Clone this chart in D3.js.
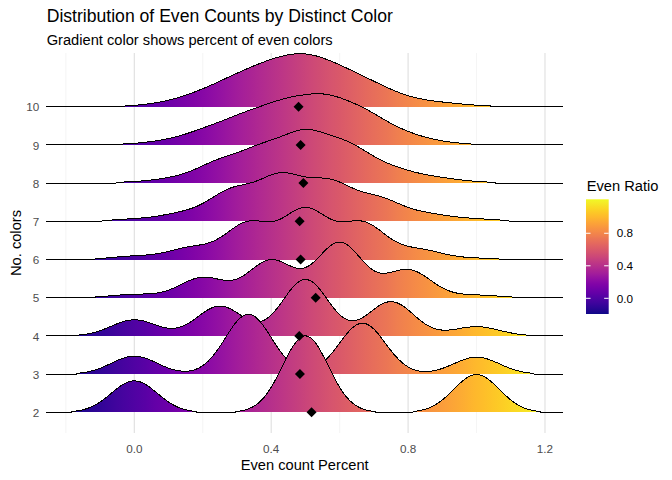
<!DOCTYPE html>
<html><head><meta charset="utf-8">
<script src="https://cdn.jsdelivr.net/npm/d3@7"></script>
<style>
body{margin:0;background:#fff}
svg{display:block;font-family:"Liberation Sans",Arial,sans-serif}
</style>
</head><body>
<svg id="chart" width="672" height="480"></svg>
<script>
// ---------------- data ----------------
// number of distinct colours per row
const colorCounts = [2, 3, 4, 5, 6, 7, 8, 9, 10];
// share (%) of samples with k even colours, k = 0..n, for each n
const share2  = [21.6, 52.5, 25.9];
const share3  = [12.4, 41.4, 35.2, 11.7];
const share4  = [10.8, 20.0, 37.9, 23.0, 6.2];
const share5  = [2.2, 13.6, 25.3, 37.2, 18.8, 1.7];
const share6  = [2.2, 7.8, 24.3, 33.3, 24.3, 6.4, 0.8];
const share7  = [1.3, 4.7, 18.5, 27.0, 23.1, 13.5, 4.2, 1.35];
const share8  = [0.6, 2.9, 12.9, 20.2, 29.6, 21.9, 8.4, 3.3, 0.6];
const share9  = [0.4, 2.6, 8.7, 15.6, 21.6, 24.6, 17.7, 6.5, 1.5, 0];
const share10 = [0.2, 2.0, 6.9, 13.9, 19.9, 23.8, 17.2, 10.5, 3.3, 1.9, 0.4];
// mean even-count percent per row (diamonds)
const meanPercent = [0.518, 0.484, 0.482, 0.530, 0.486, 0.483, 0.494, 0.486, 0.480];
// axis / legend ticks
const xTicks = [0, 0.4, 0.8, 1.2];
const xMinorTicks = [-0.2, 0.2, 0.6, 1.0];
const legendTicks = [0, 0.4, 0.8];
// density settings
const bandwidth = 0.067;
const xExtent = [-0.258, 1.2535];
const fillExtent = [-0.193, 1.218];
const ridgeScale = 2;
const relMinHeight = 0.01;

const shares = [share2, share3, share4, share5, share6, share7, share8, share9, share10];
const rows = colorCounts.map((n, i) => ({
  n, share: shares[i], mean: meanPercent[i]
}));

// ---------------- layout ----------------
const svg = d3.select("#chart");
const panel = {left: 46, right: 563.3, top: 53, bottom: 433};

const x = d3.scaleLinear().domain(xExtent).range([panel.left, panel.right]);
const y = d3.scalePoint().domain(colorCounts.slice().reverse()).range([106.7, 412.3]);
const color = d3.scaleSequential(d3.interpolatePlasma).domain(fillExtent);

// ---------------- KDE ----------------
const gridN = 512;
const grid = d3.range(gridN).map(i => xExtent[0] + (xExtent[1] - xExtent[0]) * i / (gridN - 1));
const gauss = u => Math.exp(-0.5 * u * u) / Math.sqrt(2 * Math.PI);
rows.forEach(r => {
  const tot = d3.sum(r.share);
  const pts = r.share.map((w, k) => ({v: k / r.n, w: w / tot}));
  r.dens = grid.map(gx => ({
    x: gx,
    d: d3.sum(pts, p => p.w * gauss((gx - p.v) / bandwidth)) / bandwidth
  }));
});
const globalMax = d3.max(rows, r => d3.max(r.dens, p => p.d));
const h = d3.scaleLinear().domain([0, globalMax]).range([0, ridgeScale * y.step()]);
const cutoff = relMinHeight * globalMax;

// ---------------- defs: gradients ----------------
const defs = svg.append("defs");
const stops = d3.range(0, 1.0001, 0.02);
const gFill = defs.append("linearGradient").attr("id", "ridgeFill")
  .attr("gradientUnits", "userSpaceOnUse")
  .attr("x1", x(fillExtent[0])).attr("x2", x(fillExtent[1]))
  .attr("y1", 0).attr("y2", 0);
gFill.selectAll("stop").data(stops).join("stop")
  .attr("offset", t => t)
  .attr("stop-color", t => color(fillExtent[0] + t * (fillExtent[1] - fillExtent[0])));

// ---------------- grid ----------------
const gridG = svg.append("g");
gridG.selectAll("line.minor").data(xMinorTicks).join("line")
  .attr("x1", d => x(d)).attr("x2", d => x(d))
  .attr("y1", panel.top).attr("y2", panel.bottom)
  .attr("stroke", "#EBEBEB").attr("stroke-width", 0.55);
gridG.selectAll("line.major").data(xTicks).join("line")
  .attr("x1", d => x(d)).attr("x2", d => x(d))
  .attr("y1", panel.top).attr("y2", panel.bottom)
  .attr("stroke", "#DEDEDE").attr("stroke-width", 1.07);

// ---------------- ridges ----------------
const ridgeG = svg.append("g");
rows.slice().reverse().forEach(r => {
  const base = y(r.n);
  const vals = r.dens.map(p => ({x: p.x, d: p.d >= cutoff ? p.d : 0}));
  const area = d3.area().x(p => x(p.x)).y0(base).y1(p => base - h(p.d));
  const line = d3.line().x(p => x(p.x)).y(p => base - h(p.d));
  ridgeG.append("path").attr("d", area(vals)).attr("fill", "url(#ridgeFill)")
    .attr("shape-rendering", "crispEdges");
  ridgeG.append("path").attr("d", line(vals)).attr("fill", "none")
    .attr("stroke", "#000").attr("stroke-width", 1)
    .attr("shape-rendering", "crispEdges");
});

// ---------------- mean diamonds ----------------
const diamond = d3.symbol(d3.symbolSquare, 50);
svg.append("g").selectAll("path").data(rows).join("path")
  .attr("d", diamond)
  .attr("transform", r => `translate(${x(r.mean)},${y(r.n)}) rotate(45)`)
  .attr("fill", "#000");

// ---------------- axes ----------------
const fmt = d3.format(".1f");
svg.append("g").selectAll("text").data(xTicks).join("text")
  .attr("x", d => x(d)).attr("y", 452.7)
  .attr("text-anchor", "middle").attr("font-size", 11.7).attr("fill", "#4D4D4D")
  .text(fmt);
svg.append("g").selectAll("text").data(colorCounts).join("text")
  .attr("x", 39.3).attr("y", d => y(d) + 4.6)
  .attr("text-anchor", "end").attr("font-size", 11.7).attr("fill", "#4D4D4D")
  .text(d => d);

svg.append("text").attr("x", (panel.left + panel.right) / 2).attr("y", 470)
  .attr("text-anchor", "middle").attr("font-size", 14.67).attr("fill", "#000")
  .text("Even count Percent");
svg.append("text").attr("transform", `translate(20.5,${(panel.top + panel.bottom) / 2}) rotate(-90)`)
  .attr("text-anchor", "middle").attr("font-size", 14.67).attr("fill", "#000")
  .text("No. colors");

// ---------------- titles ----------------
svg.append("text").attr("x", 46.7).attr("y", 21.7)
  .attr("font-size", 17.6).attr("fill", "#000")
  .text("Distribution of Even Counts by Distinct Color");
svg.append("text").attr("x", 46.7).attr("y", 45)
  .attr("font-size", 14.67).attr("fill", "#000")
  .text("Gradient color shows percent of even colors");

// ---------------- legend ----------------
const leg = {x: 586, w: 22.7, top: 199.3, bottom: 314};
const ly = d3.scaleLinear().domain(fillExtent).range([leg.bottom, leg.top]);
const gLeg = defs.append("linearGradient").attr("id", "legendFill")
  .attr("gradientUnits", "userSpaceOnUse")
  .attr("x1", 0).attr("x2", 0)
  .attr("y1", ly(fillExtent[0])).attr("y2", ly(fillExtent[1]));
gLeg.selectAll("stop").data(stops).join("stop")
  .attr("offset", t => t)
  .attr("stop-color", t => color(fillExtent[0] + t * (fillExtent[1] - fillExtent[0])));

const legG = svg.append("g");
legG.append("text").attr("x", 586.7).attr("y", 190.7)
  .attr("font-size", 14.67).attr("fill", "#000").text("Even Ratio");
legG.append("rect").attr("x", leg.x).attr("y", leg.top)
  .attr("width", leg.w).attr("height", leg.bottom - leg.top)
  .attr("fill", "url(#legendFill)");
legG.selectAll("line.tl").data(legendTicks).join("line")
  .attr("x1", leg.x).attr("x2", leg.x + leg.w / 5)
  .attr("y1", d => ly(d)).attr("y2", d => ly(d))
  .attr("stroke", "#fff").attr("stroke-width", 1);
legG.selectAll("line.tr").data(legendTicks).join("line")
  .attr("x1", leg.x + leg.w * 4 / 5).attr("x2", leg.x + leg.w)
  .attr("y1", d => ly(d)).attr("y2", d => ly(d))
  .attr("stroke", "#fff").attr("stroke-width", 1);
legG.selectAll("text.lab").data(legendTicks).join("text")
  .attr("x", 616.7).attr("y", d => ly(d) + 4.2)
  .attr("font-size", 11.7).attr("fill", "#000")
  .text(fmt);
</script>
</body></html>
